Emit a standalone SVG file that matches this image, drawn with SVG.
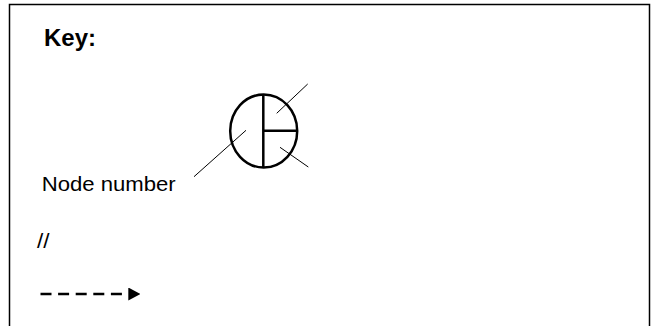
<svg xmlns="http://www.w3.org/2000/svg" width="651" height="326" viewBox="0 0 651 326">
<style>
.t{font-family:"Liberation Sans",Arial,sans-serif;fill:#000}
.thin{stroke:#000;stroke-width:1;fill:none}
.thick{stroke:#000;stroke-width:2.5;fill:none}
</style>
<defs>
<marker id="ah" markerWidth="12" markerHeight="13" refX="0" refY="6.5" orient="auto" markerUnits="userSpaceOnUse">
<path d="M0,0 L12,6.5 L0,13 Z" fill="#000"/>
</marker>
</defs>
<rect width="651" height="326" fill="#fff"/>
<rect x="9.5" y="4.5" width="640" height="340" fill="none" stroke="#000" stroke-width="1.5"/>
<g id="title">
<text class="t" x="44" y="46" font-size="23" font-weight="bold" textLength="52" lengthAdjust="spacingAndGlyphs">Key:</text>
</g>
<g id="node-symbol">
<ellipse class="thick" cx="263.7" cy="131" rx="33.5" ry="36.5"/>
<line class="thick" x1="263.3" y1="94.5" x2="263.3" y2="167.5"/>
<line class="thick" x1="263.3" y1="130.7" x2="297" y2="130.7"/>
</g>
<g id="connectors">
<line class="thin" x1="276.7" y1="113.3" x2="307.7" y2="84"/>
<line class="thin" x1="280" y1="147.3" x2="308.3" y2="167"/>
<line class="thin" x1="246" y1="130.3" x2="194" y2="176.7"/>
<line x1="40.5" y1="294" x2="128.3" y2="294" stroke="#000" stroke-width="2.5" stroke-dasharray="11 6.6" marker-end="url(#ah)"/>
</g>
<g id="node-number-label">
<text class="t" x="41.7" y="191" font-size="20" textLength="134" lengthAdjust="spacingAndGlyphs">Node number</text>
</g>
<g id="break-label">
<text class="t" x="37" y="248" font-size="21" textLength="12.5" lengthAdjust="spacingAndGlyphs">//</text>
</g>
</svg>
